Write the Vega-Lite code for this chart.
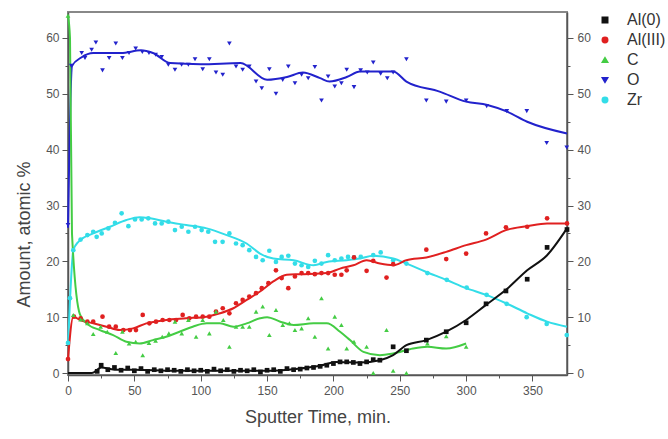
{
  "$schema": "https://vega.github.io/schema/vega-lite/v6.json",
  "width": 499,
  "height": 363,
  "autosize": {"type": "none"},
  "padding": {"left": 68, "top": 12, "right": 101, "bottom": 64},
  "config": {
    "font": "Liberation Sans",
    "view": {"stroke": "#888", "strokeWidth": 2},
    "axis": {"grid": false, "domainColor": "#555", "domainWidth": 1.5, "tickColor": "#555", "labelColor": "#555", "labelFontSize": 12, "titleColor": "#444", "titleFontWeight": "normal", "titleFontSize": 18}
  },
  "datasets": {
    "d": [
      {"s":"O","k":"f","t":0,"y":26},{"s":"O","k":"f","t":3,"y":55},{"s":"O","k":"f","t":10,"y":56.5},{"s":"O","k":"f","t":19,"y":57.3},{"s":"O","k":"f","t":40,"y":57.3},{"s":"O","k":"f","t":55,"y":57.8},{"s":"O","k":"f","t":64,"y":57.3},{"s":"O","k":"f","t":77,"y":55.5},{"s":"O","k":"f","t":100,"y":55.3},{"s":"O","k":"f","t":130,"y":55.5},{"s":"O","k":"f","t":150,"y":52.5},{"s":"O","k":"f","t":165,"y":53},{"s":"O","k":"f","t":177,"y":53.8},{"s":"O","k":"f","t":190,"y":52.8},{"s":"O","k":"f","t":197,"y":52.2},{"s":"O","k":"f","t":210,"y":53},{"s":"O","k":"f","t":220,"y":54},{"s":"O","k":"f","t":245,"y":54},{"s":"O","k":"f","t":255,"y":52.2},{"s":"O","k":"f","t":280,"y":50.4},{"s":"O","k":"f","t":300,"y":48.6},{"s":"O","k":"f","t":316,"y":48},{"s":"O","k":"f","t":331,"y":46.8},{"s":"O","k":"f","t":346,"y":45},{"s":"O","k":"f","t":376,"y":42.9},
      {"s":"Zr","k":"f","t":0,"y":5},{"s":"Zr","k":"f","t":1.5,"y":13},{"s":"Zr","k":"f","t":4,"y":22},{"s":"Zr","k":"f","t":7.8,"y":23.5},{"s":"Zr","k":"f","t":19,"y":25},{"s":"Zr","k":"f","t":31.6,"y":26.2},{"s":"Zr","k":"f","t":44,"y":27.4},{"s":"Zr","k":"f","t":54,"y":27.9},{"s":"Zr","k":"f","t":62,"y":27.7},{"s":"Zr","k":"f","t":74,"y":27.1},{"s":"Zr","k":"f","t":89,"y":26.5},{"s":"Zr","k":"f","t":104.5,"y":25.9},{"s":"Zr","k":"f","t":119.6,"y":24.7},{"s":"Zr","k":"f","t":134.6,"y":23.2},{"s":"Zr","k":"f","t":144.7,"y":21.4},{"s":"Zr","k":"f","t":154.7,"y":20.5},{"s":"Zr","k":"f","t":170,"y":20.2},{"s":"Zr","k":"f","t":185,"y":19.3},{"s":"Zr","k":"f","t":195,"y":19.9},{"s":"Zr","k":"f","t":210,"y":20.2},{"s":"Zr","k":"f","t":220,"y":20.5},{"s":"Zr","k":"f","t":230,"y":21},{"s":"Zr","k":"f","t":245,"y":20.5},{"s":"Zr","k":"f","t":255,"y":19.6},{"s":"Zr","k":"f","t":270,"y":18.1},{"s":"Zr","k":"f","t":285,"y":16.7},{"s":"Zr","k":"f","t":300,"y":15.2},{"s":"Zr","k":"f","t":315,"y":14},{"s":"Zr","k":"f","t":330,"y":12.5},{"s":"Zr","k":"f","t":346,"y":10.7},{"s":"Zr","k":"f","t":361,"y":9.2},{"s":"Zr","k":"f","t":376,"y":8.3},
      {"s":"Al(III)","k":"f","t":0,"y":2.5},{"s":"Al(III)","k":"f","t":4,"y":10.1},{"s":"Al(III)","k":"f","t":9,"y":9.5},{"s":"Al(III)","k":"f","t":19,"y":8.9},{"s":"Al(III)","k":"f","t":29,"y":8.3},{"s":"Al(III)","k":"f","t":39,"y":7.7},{"s":"Al(III)","k":"f","t":49,"y":8},{"s":"Al(III)","k":"f","t":59,"y":8.9},{"s":"Al(III)","k":"f","t":74,"y":9.5},{"s":"Al(III)","k":"f","t":89,"y":9.8},{"s":"Al(III)","k":"f","t":104.5,"y":10.1},{"s":"Al(III)","k":"f","t":114.5,"y":10.7},{"s":"Al(III)","k":"f","t":124.6,"y":11.6},{"s":"Al(III)","k":"f","t":134.6,"y":13.1},{"s":"Al(III)","k":"f","t":144.7,"y":14.6},{"s":"Al(III)","k":"f","t":154.7,"y":16.4},{"s":"Al(III)","k":"f","t":164.8,"y":17.6},{"s":"Al(III)","k":"f","t":175,"y":17.7},{"s":"Al(III)","k":"f","t":195,"y":17.9},{"s":"Al(III)","k":"f","t":205,"y":18.7},{"s":"Al(III)","k":"f","t":215,"y":19.3},{"s":"Al(III)","k":"f","t":225,"y":20.2},{"s":"Al(III)","k":"f","t":235,"y":19.6},{"s":"Al(III)","k":"f","t":245,"y":19.3},{"s":"Al(III)","k":"f","t":255,"y":20.2},{"s":"Al(III)","k":"f","t":270,"y":20.7},{"s":"Al(III)","k":"f","t":285,"y":21.7},{"s":"Al(III)","k":"f","t":300,"y":22.9},{"s":"Al(III)","k":"f","t":315,"y":23.9},{"s":"Al(III)","k":"f","t":330,"y":25.6},{"s":"Al(III)","k":"f","t":346,"y":26.3},{"s":"Al(III)","k":"f","t":361,"y":26.8},{"s":"Al(III)","k":"f","t":376,"y":26.8},
      {"s":"C","k":"f","t":0,"y":64},{"s":"C","k":"f","t":1.5,"y":60},{"s":"C","k":"f","t":3,"y":25},{"s":"C","k":"f","t":9,"y":10.5},{"s":"C","k":"f","t":14,"y":8.9},{"s":"C","k":"f","t":24,"y":7.7},{"s":"C","k":"f","t":34,"y":6.8},{"s":"C","k":"f","t":44,"y":5.6},{"s":"C","k":"f","t":54,"y":5.3},{"s":"C","k":"f","t":64,"y":5.9},{"s":"C","k":"f","t":74,"y":6.5},{"s":"C","k":"f","t":84,"y":7.4},{"s":"C","k":"f","t":94,"y":8.3},{"s":"C","k":"f","t":104.5,"y":8.9},{"s":"C","k":"f","t":114.5,"y":8.9},{"s":"C","k":"f","t":124.6,"y":8.3},{"s":"C","k":"f","t":134.6,"y":8.9},{"s":"C","k":"f","t":144.7,"y":9.8},{"s":"C","k":"f","t":150,"y":10},{"s":"C","k":"f","t":160,"y":9.2},{"s":"C","k":"f","t":170,"y":8.6},{"s":"C","k":"f","t":185,"y":8.9},{"s":"C","k":"f","t":195,"y":8.9},{"s":"C","k":"f","t":205,"y":7.4},{"s":"C","k":"f","t":212.5,"y":5.9},{"s":"C","k":"f","t":222.6,"y":3.8},{"s":"C","k":"f","t":235,"y":3.2},{"s":"C","k":"f","t":245,"y":3.5},{"s":"C","k":"f","t":260,"y":4.4},{"s":"C","k":"f","t":270.8,"y":4.7},{"s":"C","k":"f","t":285,"y":4.4},{"s":"C","k":"f","t":300,"y":5.3},
      {"s":"Al(0)","k":"f","t":0,"y":0},{"s":"Al(0)","k":"f","t":18,"y":0},{"s":"Al(0)","k":"f","t":25,"y":1},{"s":"Al(0)","k":"f","t":35,"y":0.6},{"s":"Al(0)","k":"f","t":50,"y":0.6},{"s":"Al(0)","k":"f","t":80,"y":0.4},{"s":"Al(0)","k":"f","t":120,"y":0.4},{"s":"Al(0)","k":"f","t":150,"y":0.4},{"s":"Al(0)","k":"f","t":170,"y":0.7},{"s":"Al(0)","k":"f","t":190,"y":1.3},{"s":"Al(0)","k":"f","t":202,"y":2},{"s":"Al(0)","k":"f","t":220,"y":1.9},{"s":"Al(0)","k":"f","t":235,"y":2.3},{"s":"Al(0)","k":"f","t":245,"y":3.2},{"s":"Al(0)","k":"f","t":255,"y":5},{"s":"Al(0)","k":"f","t":270,"y":5.9},{"s":"Al(0)","k":"f","t":285,"y":7.4},{"s":"Al(0)","k":"f","t":300,"y":9.5},{"s":"Al(0)","k":"f","t":315,"y":12.2},{"s":"Al(0)","k":"f","t":330,"y":14.9},{"s":"Al(0)","k":"f","t":346,"y":18.4},{"s":"Al(0)","k":"f","t":361,"y":21.1},{"s":"Al(0)","k":"f","t":376,"y":25.9},

      {"s":"O","k":"p","t":0,"y":26.5},{"s":"O","k":"p","t":2.5,"y":55},{"s":"O","k":"p","t":10.3,"y":57.3},{"s":"O","k":"p","t":12.8,"y":56.4},{"s":"O","k":"p","t":17.8,"y":57.9},{"s":"O","k":"p","t":21,"y":59.2},{"s":"O","k":"p","t":26,"y":54.2},{"s":"O","k":"p","t":31,"y":56.4},{"s":"O","k":"p","t":36,"y":59},{"s":"O","k":"p","t":41,"y":56.4},{"s":"O","k":"p","t":46,"y":57.3},{"s":"O","k":"p","t":51,"y":58.1},{"s":"O","k":"p","t":56,"y":57.5},{"s":"O","k":"p","t":61,"y":57.3},{"s":"O","k":"p","t":66,"y":57},{"s":"O","k":"p","t":70.6,"y":56.6},{"s":"O","k":"p","t":75.6,"y":55.2},{"s":"O","k":"p","t":80.6,"y":54.3},{"s":"O","k":"p","t":85.6,"y":55.2},{"s":"O","k":"p","t":90.7,"y":55.2},{"s":"O","k":"p","t":95.7,"y":56.2},{"s":"O","k":"p","t":101.5,"y":54.4},{"s":"O","k":"p","t":106.5,"y":56.2},{"s":"O","k":"p","t":111.5,"y":53.8},{"s":"O","k":"p","t":116.6,"y":53.4},{"s":"O","k":"p","t":121.6,"y":59},{"s":"O","k":"p","t":126.6,"y":54.9},{"s":"O","k":"p","t":131.6,"y":54.3},{"s":"O","k":"p","t":136.6,"y":54.9},{"s":"O","k":"p","t":141.7,"y":52.2},{"s":"O","k":"p","t":146,"y":51},{"s":"O","k":"p","t":151.7,"y":54.4},{"s":"O","k":"p","t":156.7,"y":50},{"s":"O","k":"p","t":161.8,"y":52.5},{"s":"O","k":"p","t":166,"y":54.9},{"s":"O","k":"p","t":171,"y":51.9},{"s":"O","k":"p","t":176,"y":53.4},{"s":"O","k":"p","t":181,"y":52.8},{"s":"O","k":"p","t":186,"y":54.8},{"s":"O","k":"p","t":191,"y":48.8},{"s":"O","k":"p","t":196,"y":53.1},{"s":"O","k":"p","t":201,"y":51.3},{"s":"O","k":"p","t":206,"y":51.9},{"s":"O","k":"p","t":210,"y":54.3},{"s":"O","k":"p","t":215.5,"y":51.2},{"s":"O","k":"p","t":220.5,"y":54.2},{"s":"O","k":"p","t":225.5,"y":53.8},{"s":"O","k":"p","t":230,"y":55.6},{"s":"O","k":"p","t":235.6,"y":53.6},{"s":"O","k":"p","t":240.6,"y":52.8},{"s":"O","k":"p","t":245,"y":53.8},{"s":"O","k":"p","t":255,"y":56.2},{"s":"O","k":"p","t":270,"y":48.8},{"s":"O","k":"p","t":285,"y":48.6},{"s":"O","k":"p","t":300,"y":48.8},{"s":"O","k":"p","t":315.5,"y":47.8},{"s":"O","k":"p","t":330.6,"y":46.9},{"s":"O","k":"p","t":345.7,"y":46.9},{"s":"O","k":"p","t":360.7,"y":41.2},{"s":"O","k":"p","t":375.8,"y":40.4},

      {"s":"Zr","k":"p","t":0,"y":5.4},{"s":"Zr","k":"p","t":1.5,"y":13.4},{"s":"Zr","k":"p","t":4,"y":22},{"s":"Zr","k":"p","t":9.5,"y":23.9},{"s":"Zr","k":"p","t":14.6,"y":24.7},{"s":"Zr","k":"p","t":19,"y":25.3},{"s":"Zr","k":"p","t":21.6,"y":24.4},{"s":"Zr","k":"p","t":25.4,"y":25},{"s":"Zr","k":"p","t":30.4,"y":25.9},{"s":"Zr","k":"p","t":35.4,"y":26.9},{"s":"Zr","k":"p","t":40.4,"y":28.6},{"s":"Zr","k":"p","t":45.5,"y":26.3},{"s":"Zr","k":"p","t":50.5,"y":27.5},{"s":"Zr","k":"p","t":55.5,"y":27.5},{"s":"Zr","k":"p","t":60.5,"y":27.7},{"s":"Zr","k":"p","t":65.6,"y":26.8},{"s":"Zr","k":"p","t":70.6,"y":26.8},{"s":"Zr","k":"p","t":75.6,"y":27.1},{"s":"Zr","k":"p","t":80.6,"y":25.6},{"s":"Zr","k":"p","t":85.7,"y":26.2},{"s":"Zr","k":"p","t":90.7,"y":25.3},{"s":"Zr","k":"p","t":95.7,"y":26.2},{"s":"Zr","k":"p","t":100.7,"y":25.6},{"s":"Zr","k":"p","t":105.7,"y":25.3},{"s":"Zr","k":"p","t":110.8,"y":23.5},{"s":"Zr","k":"p","t":116.5,"y":23.5},{"s":"Zr","k":"p","t":121.6,"y":25},{"s":"Zr","k":"p","t":126.6,"y":23.2},{"s":"Zr","k":"p","t":131.6,"y":22.9},{"s":"Zr","k":"p","t":136.6,"y":22},{"s":"Zr","k":"p","t":141.7,"y":20.8},{"s":"Zr","k":"p","t":146.7,"y":20.2},{"s":"Zr","k":"p","t":151.7,"y":21.9},{"s":"Zr","k":"p","t":156.7,"y":19.9},{"s":"Zr","k":"p","t":161,"y":20.8},{"s":"Zr","k":"p","t":166,"y":21},{"s":"Zr","k":"p","t":171,"y":19.6},{"s":"Zr","k":"p","t":176,"y":19.3},{"s":"Zr","k":"p","t":181,"y":19},{"s":"Zr","k":"p","t":186,"y":20.1},{"s":"Zr","k":"p","t":191,"y":19.6},{"s":"Zr","k":"p","t":196,"y":21.1},{"s":"Zr","k":"p","t":201,"y":20.2},{"s":"Zr","k":"p","t":206,"y":20.5},{"s":"Zr","k":"p","t":211,"y":20.8},{"s":"Zr","k":"p","t":215.5,"y":20.7},{"s":"Zr","k":"p","t":220.6,"y":20.8},{"s":"Zr","k":"p","t":230,"y":21.1},{"s":"Zr","k":"p","t":235.6,"y":21.6},{"s":"Zr","k":"p","t":245,"y":20.2},{"s":"Zr","k":"p","t":255,"y":19.6},{"s":"Zr","k":"p","t":270.8,"y":17.9},{"s":"Zr","k":"p","t":285.4,"y":16.7},{"s":"Zr","k":"p","t":300.4,"y":15.3},{"s":"Zr","k":"p","t":315.4,"y":14},{"s":"Zr","k":"p","t":330.5,"y":12.4},{"s":"Zr","k":"p","t":345.6,"y":10},{"s":"Zr","k":"p","t":360.7,"y":8.8},{"s":"Zr","k":"p","t":375.8,"y":6.8},

      {"s":"Al(III)","k":"p","t":0,"y":2.5},{"s":"Al(III)","k":"p","t":4.5,"y":10.1},{"s":"Al(III)","k":"p","t":9.5,"y":9.8},{"s":"Al(III)","k":"p","t":14.6,"y":9.2},{"s":"Al(III)","k":"p","t":19,"y":9.2},{"s":"Al(III)","k":"p","t":26,"y":10.1},{"s":"Al(III)","k":"p","t":31,"y":8.3},{"s":"Al(III)","k":"p","t":36,"y":8.3},{"s":"Al(III)","k":"p","t":41.7,"y":7.7},{"s":"Al(III)","k":"p","t":46.7,"y":7.7},{"s":"Al(III)","k":"p","t":51.2,"y":7.7},{"s":"Al(III)","k":"p","t":56.3,"y":10.4},{"s":"Al(III)","k":"p","t":61.3,"y":8.9},{"s":"Al(III)","k":"p","t":66.3,"y":9.2},{"s":"Al(III)","k":"p","t":71.3,"y":9.5},{"s":"Al(III)","k":"p","t":76.4,"y":9.5},{"s":"Al(III)","k":"p","t":81.4,"y":9.5},{"s":"Al(III)","k":"p","t":86.4,"y":10.4},{"s":"Al(III)","k":"p","t":91.4,"y":9.8},{"s":"Al(III)","k":"p","t":96.5,"y":10.1},{"s":"Al(III)","k":"p","t":101.5,"y":10.1},{"s":"Al(III)","k":"p","t":106.5,"y":10.1},{"s":"Al(III)","k":"p","t":111.5,"y":11},{"s":"Al(III)","k":"p","t":116.6,"y":11.6},{"s":"Al(III)","k":"p","t":121.6,"y":10.7},{"s":"Al(III)","k":"p","t":126.6,"y":12.5},{"s":"Al(III)","k":"p","t":131.6,"y":13.1},{"s":"Al(III)","k":"p","t":136.6,"y":13.7},{"s":"Al(III)","k":"p","t":141.7,"y":14.3},{"s":"Al(III)","k":"p","t":146,"y":15.2},{"s":"Al(III)","k":"p","t":151,"y":16.1},{"s":"Al(III)","k":"p","t":156.7,"y":18.4},{"s":"Al(III)","k":"p","t":161,"y":17},{"s":"Al(III)","k":"p","t":166,"y":15.2},{"s":"Al(III)","k":"p","t":171,"y":17.3},{"s":"Al(III)","k":"p","t":176,"y":17.9},{"s":"Al(III)","k":"p","t":181,"y":17.9},{"s":"Al(III)","k":"p","t":186,"y":17.7},{"s":"Al(III)","k":"p","t":191,"y":17.9},{"s":"Al(III)","k":"p","t":196,"y":17.9},{"s":"Al(III)","k":"p","t":201,"y":17.6},{"s":"Al(III)","k":"p","t":206,"y":17.6},{"s":"Al(III)","k":"p","t":210,"y":18.4},{"s":"Al(III)","k":"p","t":215.5,"y":20.7},{"s":"Al(III)","k":"p","t":225,"y":18.3},{"s":"Al(III)","k":"p","t":230,"y":20.1},{"s":"Al(III)","k":"p","t":240,"y":17.1},{"s":"Al(III)","k":"p","t":245,"y":19.5},{"s":"Al(III)","k":"p","t":270,"y":22.1},{"s":"Al(III)","k":"p","t":285,"y":20.4},{"s":"Al(III)","k":"p","t":300,"y":21.4},{"s":"Al(III)","k":"p","t":315,"y":25},{"s":"Al(III)","k":"p","t":330,"y":26.1},{"s":"Al(III)","k":"p","t":346,"y":26.2},{"s":"Al(III)","k":"p","t":361,"y":27.7},{"s":"Al(III)","k":"p","t":376,"y":26.8},

      {"s":"C","k":"p","t":0,"y":64},{"s":"C","k":"p","t":4,"y":10.4},{"s":"C","k":"p","t":9.5,"y":9.6},{"s":"C","k":"p","t":14.6,"y":8.9},{"s":"C","k":"p","t":19,"y":7},{"s":"C","k":"p","t":24.6,"y":8.3},{"s":"C","k":"p","t":29.6,"y":7.4},{"s":"C","k":"p","t":36,"y":3.6},{"s":"C","k":"p","t":41,"y":7.4},{"s":"C","k":"p","t":46,"y":5.3},{"s":"C","k":"p","t":51,"y":5.6},{"s":"C","k":"p","t":56.3,"y":3.2},{"s":"C","k":"p","t":61,"y":5.4},{"s":"C","k":"p","t":66,"y":5.8},{"s":"C","k":"p","t":71,"y":6.5},{"s":"C","k":"p","t":76,"y":7.1},{"s":"C","k":"p","t":80.6,"y":9.2},{"s":"C","k":"p","t":85.7,"y":7.1},{"s":"C","k":"p","t":90.7,"y":9.5},{"s":"C","k":"p","t":96.5,"y":6.5},{"s":"C","k":"p","t":101.5,"y":9.5},{"s":"C","k":"p","t":106.5,"y":7.1},{"s":"C","k":"p","t":111.5,"y":11},{"s":"C","k":"p","t":117,"y":9.5},{"s":"C","k":"p","t":121.6,"y":4.7},{"s":"C","k":"p","t":126.6,"y":8.3},{"s":"C","k":"p","t":131.6,"y":8.3},{"s":"C","k":"p","t":136.6,"y":8.3},{"s":"C","k":"p","t":141.7,"y":11},{"s":"C","k":"p","t":146.7,"y":11.9},{"s":"C","k":"p","t":151.7,"y":6.8},{"s":"C","k":"p","t":156.7,"y":11.3},{"s":"C","k":"p","t":161.8,"y":8.6},{"s":"C","k":"p","t":166.8,"y":8.9},{"s":"C","k":"p","t":171,"y":7.7},{"s":"C","k":"p","t":176,"y":8},{"s":"C","k":"p","t":181,"y":9.8},{"s":"C","k":"p","t":186,"y":6.5},{"s":"C","k":"p","t":191,"y":13.4},{"s":"C","k":"p","t":196,"y":4.4},{"s":"C","k":"p","t":201,"y":10.1},{"s":"C","k":"p","t":206,"y":8.6},{"s":"C","k":"p","t":210,"y":4.4},{"s":"C","k":"p","t":215.5,"y":5.6},{"s":"C","k":"p","t":225,"y":4.7},{"s":"C","k":"p","t":230,"y":0},{"s":"C","k":"p","t":240,"y":7.7},{"s":"C","k":"p","t":245,"y":0.4},{"s":"C","k":"p","t":255,"y":0},{"s":"C","k":"p","t":270.8,"y":5.3},{"s":"C","k":"p","t":285,"y":6.6},{"s":"C","k":"p","t":300,"y":4.7},

      {"s":"Al(0)","k":"p","t":22,"y":0.3},{"s":"Al(0)","k":"p","t":25,"y":1.4},{"s":"Al(0)","k":"p","t":30,"y":0.6},{"s":"Al(0)","k":"p","t":35,"y":1},{"s":"Al(0)","k":"p","t":40,"y":0.5},{"s":"Al(0)","k":"p","t":45,"y":0.9},{"s":"Al(0)","k":"p","t":50,"y":0.4},{"s":"Al(0)","k":"p","t":55,"y":0.8},{"s":"Al(0)","k":"p","t":60,"y":0.3},{"s":"Al(0)","k":"p","t":65,"y":0.6},{"s":"Al(0)","k":"p","t":70,"y":0.4},{"s":"Al(0)","k":"p","t":75,"y":0.6},{"s":"Al(0)","k":"p","t":80,"y":0.5},{"s":"Al(0)","k":"p","t":85,"y":0.3},{"s":"Al(0)","k":"p","t":90,"y":0.6},{"s":"Al(0)","k":"p","t":95,"y":0.4},{"s":"Al(0)","k":"p","t":100,"y":0.5},{"s":"Al(0)","k":"p","t":105,"y":0.3},{"s":"Al(0)","k":"p","t":110,"y":0.7},{"s":"Al(0)","k":"p","t":115,"y":0.4},{"s":"Al(0)","k":"p","t":120,"y":0.6},{"s":"Al(0)","k":"p","t":125,"y":0.3},{"s":"Al(0)","k":"p","t":130,"y":0.5},{"s":"Al(0)","k":"p","t":135,"y":0.4},{"s":"Al(0)","k":"p","t":140,"y":0.6},{"s":"Al(0)","k":"p","t":145,"y":0.2},{"s":"Al(0)","k":"p","t":150,"y":0.5},{"s":"Al(0)","k":"p","t":155,"y":0.6},{"s":"Al(0)","k":"p","t":160,"y":0.3},{"s":"Al(0)","k":"p","t":165,"y":0.8},{"s":"Al(0)","k":"p","t":170,"y":0.6},{"s":"Al(0)","k":"p","t":175,"y":0.7},{"s":"Al(0)","k":"p","t":180,"y":0.9},{"s":"Al(0)","k":"p","t":185,"y":1},{"s":"Al(0)","k":"p","t":190,"y":1.2},{"s":"Al(0)","k":"p","t":195,"y":1.4},{"s":"Al(0)","k":"p","t":200,"y":1.7},{"s":"Al(0)","k":"p","t":205,"y":2},{"s":"Al(0)","k":"p","t":210,"y":2},{"s":"Al(0)","k":"p","t":215,"y":1.9},{"s":"Al(0)","k":"p","t":220,"y":1.7},{"s":"Al(0)","k":"p","t":225,"y":2},{"s":"Al(0)","k":"p","t":230,"y":2.4},{"s":"Al(0)","k":"p","t":235,"y":2.3},{"s":"Al(0)","k":"p","t":245,"y":4.7},{"s":"Al(0)","k":"p","t":255,"y":4},{"s":"Al(0)","k":"p","t":270,"y":5.9},{"s":"Al(0)","k":"p","t":285,"y":7.4},{"s":"Al(0)","k":"p","t":300,"y":9},{"s":"Al(0)","k":"p","t":315,"y":12.4},{"s":"Al(0)","k":"p","t":330,"y":14.7},{"s":"Al(0)","k":"p","t":346,"y":16.8},{"s":"Al(0)","k":"p","t":361,"y":22.5},{"s":"Al(0)","k":"p","t":376,"y":25.7}
    ]
  },
  "data": {"name": "d"},
  "encoding": {
    "x": {
      "field": "t", "type": "quantitative",
      "scale": {"domain": [0, 376], "nice": false, "zero": false},
      "axis": {
        "title": "Sputter Time, min.", "values": [0,25,50,75,100,125,150,175,200,225,250,275,300,325,350],
        "labelExpr": "datum.value % 50 === 0 ? datum.label : ''",
        "tickSize": {"condition": {"test": "datum.value % 50 === 0", "value": 6}, "value": 3},
        "labelPadding": 4, "titlePadding": 12, "labelFlush": false
      }
    },
    "color": {
      "field": "s", "type": "nominal", "title": null,
      "scale": {"domain": ["Al(0)","Al(III)","C","O","Zr"], "range": ["#111111","#e02020","#44cc44","#2222cc","#33dde8"]},
      "legend": {"orient": "right", "offset": 6, "labelFontSize": 16, "labelColor": "#333", "symbolSize": 30, "rowPadding": 4, "labelOffset": 14, "padding": 0}
    }
  },
  "layer": [
    {
      "transform": [{"filter": "datum.k === 'f'"}],
      "mark": {"type": "line", "strokeWidth": 2, "interpolate": "monotone"},
      "encoding": {
        "y": {
          "field": "y", "type": "quantitative",
          "scale": {"domain": [-0.35, 64.65], "nice": false, "zero": false},
          "axis": {
            "orient": "left", "title": "Amount, atomic %", "titleY": 222,
            "values": [0,5,10,15,20,25,30,35,40,45,50,55,60],
            "labelExpr": "datum.value % 10 === 0 ? datum.label : ''",
            "tickSize": {"condition": {"test": "datum.value % 10 === 0", "value": 6}, "value": 3},
            "labelPadding": 3, "titlePadding": 12
          }
        },
        "detail": {"field": "s"},
        "order": {"field": "t", "type": "quantitative"}
      }
    },
    {
      "transform": [{"filter": "datum.k === 'p'"}],
      "mark": {"type": "point", "filled": true, "size": 22, "opacity": 1},
      "encoding": {
        "y": {
          "field": "y", "type": "quantitative",
          "scale": {"domain": [-0.35, 64.65], "nice": false, "zero": false},
          "axis": {
            "orient": "right", "title": null,
            "values": [0,5,10,15,20,25,30,35,40,45,50,55,60],
            "labelExpr": "datum.value % 10 === 0 ? datum.label : ''",
            "tickSize": {"condition": {"test": "datum.value % 10 === 0", "value": 6}, "value": 3},
            "labelPadding": 4
          }
        },
        "shape": {
          "field": "s", "type": "nominal", "title": null,
          "scale": {"domain": ["Al(0)","Al(III)","C","O","Zr"], "range": ["square","circle","triangle-up","triangle-down","circle"]},
          "legend": {"orient": "right", "offset": 6, "labelFontSize": 16, "labelColor": "#333", "symbolSize": 30, "rowPadding": 4, "labelOffset": 14, "padding": 0}
        }
      }
    }
  ],
  "resolve": {"axis": {"y": "independent"}}
}
